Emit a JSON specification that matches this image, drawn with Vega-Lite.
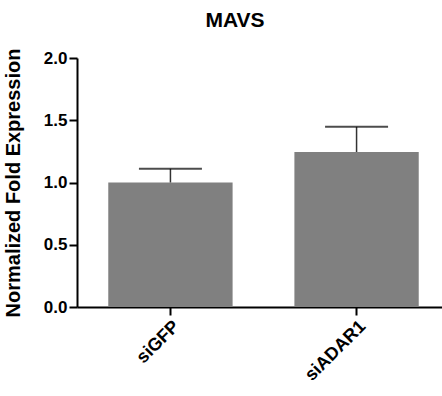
{
  "$schema": "https://vega.github.io/schema/vega-lite/v6.json",
  "autosize": {"type": "none"},
  "padding": {"left": 77, "top": 58, "right": 1, "bottom": 89},
  "width": 364,
  "height": 249,
  "background": "white",
  "title": {"text": "MAVS", "fontSize": 21, "font": "Liberation Sans", "fontWeight": "bold", "color": "black", "anchor": "middle", "dx": -24, "offset": 17},
  "config": {
    "view": {"stroke": null},
    "axis": {"labelFont": "Liberation Sans", "titleFont": "Liberation Sans", "labelFontWeight": "bold", "titleFontWeight": "bold", "labelColor": "black", "titleColor": "black", "domainColor": "black", "tickColor": "black", "domainWidth": 2, "tickWidth": 2, "tickSize": 8, "grid": false}
  },
  "data": {"values": [
    {"group": "siGFP", "value": 1.0, "upper": 1.11},
    {"group": "siADAR1", "value": 1.245, "upper": 1.447}
  ]},
  "encoding": {
    "x": {"field": "group", "type": "nominal", "sort": ["siGFP", "siADAR1"],
      "scale": {"range": [0, 373], "paddingInner": 0.332, "paddingOuter": 0.168},
      "axis": {"title": null, "labelAngle": -45, "labelFontSize": 18, "labelPadding": 2}}
  },
  "layer": [
    {"mark": {"type": "bar", "color": "#808080"},
     "encoding": {"y": {"field": "value", "type": "quantitative", "scale": {"domain": [0, 2]},
       "axis": {"title": "Normalized Fold Expression", "titleFontSize": 20, "labelFontSize": 17, "values": [0, 0.5, 1, 1.5, 2], "format": ".1f", "labelPadding": 2, "titlePadding": 20}}}},
    {"mark": {"type": "rule", "color": "#333333", "strokeWidth": 1.5},
     "encoding": {"y": {"field": "value", "type": "quantitative"}, "y2": {"field": "upper"}}},
    {"mark": {"type": "tick", "color": "black", "thickness": 2, "size": 63},
     "encoding": {"y": {"field": "upper", "type": "quantitative"}}}
  ]
}
